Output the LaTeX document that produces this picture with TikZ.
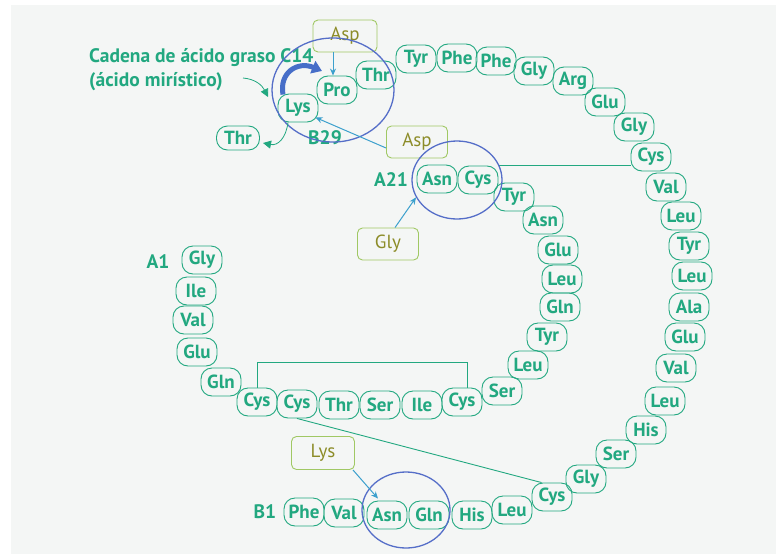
\documentclass[tikz,border=0pt]{standalone}
\usepackage{fontspec}
\setmainfont{PT Sans}
\usetikzlibrary{arrows.meta,calc,shapes.geometric}
\definecolor{teal1}{RGB}{34,168,128}
\definecolor{bgc}{RGB}{244,246,245}
\definecolor{ringblue}{RGB}{85,110,200}
\definecolor{thickblue}{RGB}{70,110,200}
\definecolor{arrblue}{RGB}{60,160,205}
\definecolor{boxgreen}{RGB}{160,200,100}
\definecolor{oliv}{RGB}{140,140,40}
\begin{document}
\begin{tikzpicture}[x=1pt,y=-1pt,
  aa/.style={draw=teal1,line width=0.9pt,rounded corners=11pt,minimum width=40pt,minimum height=28pt,inner sep=0pt,text=teal1,font=\bfseries\fontsize{19}{19}\selectfont},
  lbl/.style={text=teal1,font=\bfseries\fontsize{19.5}{19.5}\selectfont,inner sep=0pt},
  gbox/.style={draw=boxgreen,line width=0.9pt,rounded corners=5pt,minimum width=62pt,minimum height=32pt,inner sep=0pt,text=oliv,font=\fontsize{19}{19}\selectfont},
  ring/.style={draw=ringblue,line width=1.3pt,ellipse,inner sep=0pt},
  sslink/.style={draw=teal1,line width=0.9pt},
  parr/.style={draw=arrblue,line width=1pt,-{Stealth[length=7pt,width=6pt]}},
  tarr/.style={draw=teal1,line width=0.8pt,-{Triangle[length=8pt,width=8pt]}}]
\useasboundingbox (0,0) rectangle (778,554);
\fill[bgc] (11,5) rectangle (776,554);
% B chain
\foreach \n/\x/\y/\t in {b1/304/512/Phe,b2/344/513/Val,b3/387/515/Asn,b4/429/515/Gln,b5/472/515/His,b6/512/510/Leu,b7/552/497/Cys,b8/586/479/Gly,b9/616/454/Ser,b10/646/430/His,b11/665/401/Leu,b12/676/368/Val,b13/685/337/Glu,b14/689/307/Ala,b15/692/276/Leu,b16/689/246/Tyr,b17/681/216/Leu,b18/666/187/Val,b19/651/157/Cys,b20/634/127/Gly,b21/605/102/Glu,b22/573/81/Arg,b23/534/71/Gly,b24/496/61/Phe,b25/457/58/Phe,b26/416/59/Tyr,b27/376/75/Thr,b28/337/90/Pro,b29/298/108/Lys}
  \node[aa] (\n) at (\x,\y) {\t};
\node[aa,minimum height=24pt,minimum width=43pt] (b30) at (238,138) {Thr};
% A chain
\foreach \n/\x/\y/\t in {a1/202/260/Gly,a2/196/291/Ile,a3/193/320/Val,a4/197/352/Glu,a5/221/382/Gln,a6/257/402/Cys,a7/297/404/Cys,a8/339/405/Thr,a9/380/405/Ser,a10/422/405/Ile,a11/462/402/Cys,a12/502/391/Ser,a13/528/365/Leu,a14/547/337/Tyr,a15/560/307/Gln,a16/562/279/Leu,a17/558/250/Glu,a18/543/220/Asn,a19/514/197/Tyr,a20/478/180/Cys,a21/437/179/Asn}
  \node[aa] (\n) at (\x,\y) {\t};
% labels
\node[lbl] (lA1) at (158,262) {A1};
\node[lbl] (lA21) at (391,180) {A21};
\node[lbl] (lB1) at (265,512) {B1};
\node[lbl] (lB29) at (325,138) {B29};
\node[lbl,anchor=base west] (t1) at (89,62) {Cadena de ácido graso C14};
\node[lbl,anchor=base west] (t2) at (89,86) {(ácido mirístico)};
% disulfide bonds
\draw[sslink] (a20.north east) -- (a20.north east -| b19.west);
\draw[sslink] (a6.north) -- ++(0,-25) -| ($(a11.north)+(5,0)$);
\draw[sslink] (a7.south) -- ($(b7.north west)+(10,0)$);
% green boxes
\node[gbox,minimum width=64pt] (asp1) at (345,36) {Asp};
\node[gbox,minimum width=61pt] (asp2) at (417,142) {Asp};
\node[gbox,minimum width=61pt] (glyg) at (388,244) {Gly};
\node[gbox,minimum width=63pt,minimum height=33pt] (lysg) at (323,453) {Lys};
% rings
\node[ring,minimum width=122pt,minimum height=104pt] (e1) at (333,90) {};
\node[ring,minimum width=90pt,minimum height=78pt] (e2) at (457,180) {};
\node[ring,minimum width=88pt,minimum height=76pt] (e3) at (406,510) {};
% pointer arrows
\draw[parr] ($(asp1.south)+(-12,0)$) -- ($(b28.north)+(-4,0)$);
\draw[parr] ($(asp2.west)+(0,6)$) -- ($(b29.south east)+(-3,-5)$);
\draw[parr] ($(glyg.north)+(7,0)$) -- (e2.203);
\draw[parr] ($(lysg.south east)+(-2,0)$) -- ($(b3.north)+(-9,-2)$);
% myristic chain arrows
\coordinate (m1) at ($(b29.north)+(-15,1)$);
\coordinate (m2) at (322,71);
\draw[thickblue,line width=5pt,-{Triangle[length=10pt,width=13pt]}] (m1) .. controls (279,72) and (298,61) .. (m2);
\coordinate (m3) at (243,78);
\coordinate (m4) at (268,97);
\draw[tarr] (m3) .. controls (255,79) and (262,85) .. (m4);
\coordinate (m5) at ($(b29.south)+(-10,0)$);
\coordinate (m6) at (263,143);
\draw[tarr] (m5) .. controls (286,138) and (278,146) .. (m6);
\end{tikzpicture}
\end{document}
